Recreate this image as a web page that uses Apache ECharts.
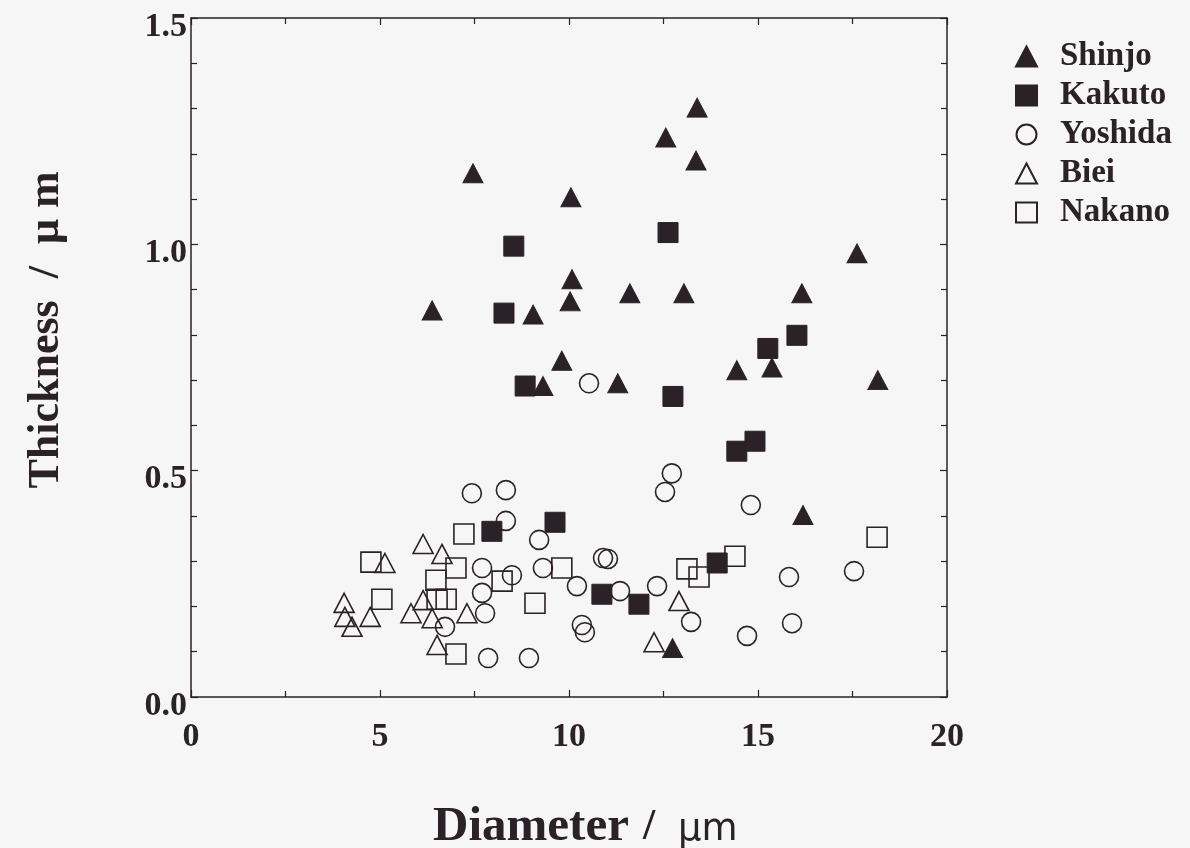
<!DOCTYPE html>
<html>
<head>
<meta charset="utf-8">
<script src="https://cdn.jsdelivr.net/npm/echarts@6/dist/echarts.min.js"></script>
<style>
html,body{margin:0;padding:0;background:#f6f6f6;}
#chart{width:1190px;height:848px;}
</style>
</head>
<body>
<div id="chart"></div>
<script>
const seriesNames = ['Shinjo', 'Kakuto', 'Yoshida', 'Biei', 'Nakano'];
const xTicks = [0, 5, 10, 15, 20];
const yTicks = [0.0, 0.5, 1.0, 1.5];
const xTitle = ['Diameter', '/', 'μm'];
const yTitle = 'Thickness  /  μ m';

const shinjo = [[6.38,0.854],[7.46,1.157],[9.05,0.845],[10.05,1.104],[10.08,0.923],[10.03,0.874],[9.81,0.743],[9.31,0.687],[11.29,0.693],[11.61,0.892],[12.56,1.236],[13.39,1.302],[13.36,1.185],[13.04,0.892],[14.44,0.722],[15.37,0.728],[16.16,0.892],[17.62,0.980],[18.17,0.700],[16.19,0.402],[12.74,0.108]];
const kakuto = [[8.54,0.996],[12.62,1.026],[8.28,0.848],[8.84,0.687],[12.75,0.664],[15.26,0.770],[16.03,0.799],[14.44,0.543],[14.92,0.565],[7.96,0.366],[9.63,0.386],[10.87,0.227],[11.85,0.205],[13.92,0.296]];
const yoshida = [[7.43,0.450],[8.33,0.457],[8.33,0.389],[9.21,0.347],[7.70,0.285],[8.49,0.269],[7.70,0.230],[7.78,0.185],[9.31,0.285],[10.21,0.245],[10.90,0.307],[11.03,0.305],[11.35,0.234],[12.33,0.245],[12.72,0.494],[12.54,0.453],[14.81,0.424],[10.34,0.159],[10.42,0.143],[13.23,0.166],[14.71,0.135],[7.86,0.086],[8.94,0.086],[6.72,0.155],[15.82,0.265],[15.90,0.163],[17.54,0.278],[10.53,0.693]];
const biei = [[5.13,0.296],[6.14,0.338],[6.64,0.316],[4.05,0.208],[4.07,0.177],[4.26,0.155],[4.74,0.177],[5.82,0.185],[6.14,0.214],[6.38,0.174],[7.30,0.185],[6.51,0.115],[12.91,0.212],[12.25,0.121]];
const nakano = [[4.76,0.298],[5.05,0.216],[7.22,0.360],[7.01,0.285],[6.48,0.258],[6.51,0.216],[6.75,0.216],[7.01,0.095],[8.23,0.256],[9.10,0.207],[9.81,0.285],[13.12,0.283],[13.44,0.265],[14.39,0.311],[18.15,0.353]];

const INK = '#2a2226';
const BG = '#f6f6f6';
const SERIF = '"Liberation Serif","DejaVu Serif",serif';
const SANS = '"DejaVu Sans","Liberation Sans",sans-serif';

const chart = echarts.init(document.getElementById('chart'));

function axisCommon(extra) {
  return Object.assign({
    type: 'value',
    axisLine: { show: true, onZero: false, lineStyle: { color: INK, width: 1.5 } },
    axisTick: { show: true, inside: true, length: 7, lineStyle: { color: INK, width: 1.2 } },
    splitLine: { show: false },
    minorSplitLine: { show: false }
  }, extra);
}

function scatter(name, data, symbol, size, filled) {
  return {
    name: name, type: 'scatter', data: data, symbol: symbol, symbolSize: size,
    itemStyle: filled ? { color: INK, borderColor: INK, borderWidth: 1, opacity: 1 } :
                        { color: 'rgba(0,0,0,0)', borderColor: INK, borderWidth: 1.6, opacity: 1 },
    emphasis: { disabled: true }
  };
}

const xMinor = { show: true, splitNumber: 2, length: 6, lineStyle: { color: INK, width: 1.2 } };
const yMinor = { show: true, splitNumber: 5, length: 6, lineStyle: { color: INK, width: 1.2 } };

const option = {
  backgroundColor: BG,
  animation: false,
  grid: { left: 191, right: 243, top: 18, bottom: 151 },
  legend: {
    orient: 'vertical', left: 1010, top: 35, itemGap: 6,
    itemWidth: 21, itemHeight: 20,
    textStyle: { fontFamily: SERIF, fontWeight: 'bold', fontSize: 33, color: INK, lineHeight: 31,
                 padding: [0, 0, 0, 18] },
    data: seriesNames
  },
  xAxis: [
    axisCommon({
      min: xTicks[0], max: xTicks[xTicks.length - 1], interval: 5, position: 'bottom',
      minorTick: xMinor,
      axisLabel: { margin: 23, fontFamily: SERIF, fontWeight: 'bold', fontSize: 34, color: INK,
                   formatter: v => String(v) }
    }),
    axisCommon({
      min: 0, max: 20, interval: 5, position: 'top',
      minorTick: xMinor, axisLabel: { show: false }
    })
  ],
  yAxis: [
    axisCommon({
      min: yTicks[0], max: yTicks[yTicks.length - 1], interval: 0.5, position: 'left',
      minorTick: yMinor,
      axisLabel: { margin: 4, fontFamily: SERIF, fontWeight: 'bold', fontSize: 34, color: INK,
                   verticalAlign: 'top', lineHeight: 18, formatter: v => v.toFixed(1) }
    }),
    axisCommon({
      min: 0, max: 1.5, interval: 0.5, position: 'right',
      minorTick: yMinor, axisLabel: { show: false }
    })
  ],
  graphic: [
    { type: 'text', x: 433, y: 827, silent: true,
      style: { text: xTitle[0], font: 'bold 49px ' + SERIF, fill: INK, align: 'left', verticalAlign: 'middle' } },
    { type: 'text', x: 643, y: 828, silent: true,
      style: { text: xTitle[1], font: 'bold 44px ' + SERIF, fill: INK, align: 'left', verticalAlign: 'middle' } },
    { type: 'text', x: 678, y: 830, silent: true,
      style: { text: xTitle[2], font: '37px ' + SANS, fill: INK, align: 'left', verticalAlign: 'middle' } },
    { type: 'text', x: 47, y: 330, rotation: Math.PI / 2, silent: true,
      style: { text: yTitle, font: 'bold 44px ' + SERIF, fill: INK, align: 'center', verticalAlign: 'middle' } }
  ],
  series: [
    scatter('Shinjo', shinjo, 'triangle', [20, 19], true),
    scatter('Kakuto', kakuto, 'rect', 20, true),
    scatter('Yoshida', yoshida, 'circle', 19, false),
    scatter('Biei', biei, 'triangle', [20, 19], false),
    scatter('Nakano', nakano, 'rect', 20, false)
  ]
};
chart.setOption(option);
</script>
</body>
</html>
